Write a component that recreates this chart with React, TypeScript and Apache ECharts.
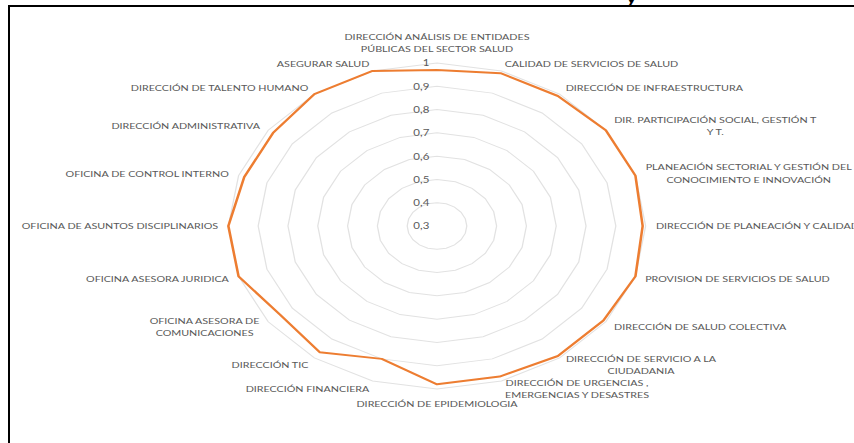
import React, { useEffect, useRef } from "react";
import * as echarts from "echarts";

// Categories, clockwise from the top
const categories: string[] = [
  "DIRECCIÓN ANÁLISIS DE ENTIDADES\nPÚBLICAS DEL SECTOR SALUD",
  "CALIDAD DE SERVICIOS DE SALUD",
  "DIRECCIÓN DE INFRAESTRUCTURA",
  "DIR. PARTICIPACIÓN SOCIAL, GESTIÓN T\nY T.",
  "PLANEACIÓN SECTORIAL Y GESTIÓN DEL\nCONOCIMIENTO E INNOVACIÓN",
  "DIRECCIÓN DE PLANEACIÓN Y CALIDAD",
  "PROVISION DE SERVICIOS DE SALUD",
  "DIRECCIÓN DE SALUD COLECTIVA",
  "DIRECCIÓN DE SERVICIO A LA\nCIUDADANIA",
  "DIRECCIÓN DE URGENCIAS ,\nEMERGENCIAS Y DESASTRES",
  "DIRECCIÓN DE EPIDEMIOLOGIA",
  "DIRECCIÓN FINANCIERA",
  "DIRECCIÓN TIC",
  "OFICINA ASESORA DE\nCOMUNICACIONES",
  "OFICINA ASESORA JURIDICA",
  "OFICINA DE ASUNTOS DISCIPLINARIOS",
  "OFICINA DE CONTROL INTERNO",
  "DIRECCIÓN ADMINISTRATIVA",
  "DIRECCIÓN DE TALENTO HUMANO",
  "ASEGURAR SALUD",
];

const seriesValues: number[] = [
  0.97, 0.99, 0.99, 1.0, 1.0, 0.99, 1.0, 0.99, 0.99, 0.98,
  0.98, 0.9, 0.97, 0.95, 1.0, 1.0, 0.98, 0.98, 1.0, 1.0,
];

const tickLabels: string[] = ["0,3", "0,4", "0,5", "0,6", "0,7", "0,8", "0,9", "1"];
const axisMin = 0.3;
const axisMax = 1;
const splitCount = 7;

const STRETCH = 1.28;
const BASE_W = 854 / STRETCH;

export default function App() {
  const ref = useRef<HTMLDivElement>(null);

  useEffect(() => {
    if (!ref.current) return;
    const chart = echarts.init(ref.current, undefined, { renderer: "svg" });

    // ECharts radar places indicators counter-clockwise; reorder so they read clockwise.
    const order = [0, ...categories.slice(1).map((_, i) => categories.length - 1 - i)];
    const textColor = "#595959";
    const fontSize = 8.4;

    const indicator = order.map((idx, k) => {
      const base: any = { name: categories[idx], min: axisMin, max: axisMax };
      if (k === 0) {
        base.axisLabel = {
          show: true,
          color: textColor,
          fontFamily: "Lato",
          fontSize: 9,
          margin: 6,
          formatter: (v: number) => {
            const i = Math.round((v - axisMin) * 10);
            return tickLabels[i] ?? "";
          },
        };
      }
      return base;
    });

    chart.setOption({
      animation: false,
      backgroundColor: "#ffffff",
      radar: {
        center: [437 / STRETCH, 226],
        radius: 163,
        startAngle: 90,
        splitNumber: splitCount,
        shape: "polygon",
        nameGap: 8,
        axisName: {
          color: textColor,
          fontFamily: "Lato",
          fontSize,
          lineHeight: 12.5,
          formatter: (name: string) =>
            name.indexOf("\n") >= 0
              ? name
                  .split("\n")
                  .map((l) => `{c|${l}}`)
                  .join("\n")
              : name,
          rich: {
            c: {
              align: "center",
              color: textColor,
              fontFamily: "Lato",
              fontSize,
              lineHeight: 12.5,
            },
          },
        },
        axisLine: { show: false },
        axisTick: { show: false },
        axisLabel: { show: false },
        splitLine: { lineStyle: { color: "#e2e2e2", width: 1 } },
        splitArea: { show: false },
        indicator,
      },
      graphic: [
        {
          type: "text",
          left: 626 / STRETCH,
          top: -11,
          style: { text: "y", fill: "#000", font: "bold 16px Lato" },
        },
      ],
      series: [
        {
          type: "radar",
          symbol: "none",
          lineStyle: { color: "#ED7D31", width: 2 },
          itemStyle: { color: "#ED7D31" },
          data: [{ value: order.map((idx) => seriesValues[idx]), name: "Serie" }],
        },
      ],
    });

    return () => chart.dispose();
  }, []);

  return (
    <div
      style={{
        position: "fixed",
        left: 0,
        top: 0,
        width: 854,
        height: 443,
        overflow: "hidden",
        background: "#fff",
      }}
    >
      <div
        ref={ref}
        style={{
          position: "absolute",
          left: 0,
          top: 0,
          width: BASE_W,
          height: 443,
          transform: `scaleX(${STRETCH})`,
          transformOrigin: "0 0",
        }}
      />
      <div
        style={{
          position: "absolute",
          left: 8,
          top: 5,
          width: 860,
          height: 460,
          borderLeft: "2px solid #000",
          borderTop: "2px solid #000",
          pointerEvents: "none",
        }}
      />
    </div>
  );
}
